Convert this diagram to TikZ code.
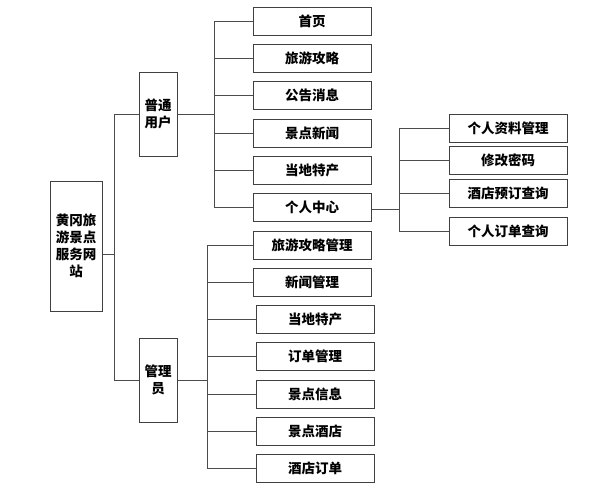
\documentclass[tikz,border=0pt]{standalone}
\usepackage{fontspec}
\setmainfont{Noto Sans CJK SC}
\usetikzlibrary{positioning}

\begin{document}
\begin{tikzpicture}[x=1pt,y=-1pt,
    box/.style={draw=black!75, line width=1pt, minimum width=118pt, minimum height=28pt,
      inner sep=0pt, font=\fontsize{13.5}{17}\selectfont\bfseries},
    tallbox/.style={box, minimum width=38pt, minimum height=84pt, align=center},
    link/.style={draw=black!70, line width=1pt}]
    \useasboundingbox (0,0) rectangle (615,490);
    % Root and roles
    \node[tallbox, minimum width=52pt, minimum height=130pt] (root) at (76,246) {黄冈旅\\游景点\\服务网\\站};
    \node[tallbox] (user) at (158,114) {普通\\用户};
    \node[tallbox] (admin) at (158,380) {管理\\员};
    % Ordinary user pages
    \foreach \t/\y [count=\i] in {首页/21,旅游攻略/58,公告消息/95,景点新闻/133,当地特产/170,个人中心/207}
      \node[box] (u\i) at (312,\y) {\t};
    % Admin pages
    \foreach \t/\x/\y [count=\i] in {旅游攻略管理/312/245,新闻管理/312/282,当地特产/315/319,
        订单管理/315/356.5,景点信息/315/394,景点酒店/315/431,酒店订单/315/468}
      \node[box] (a\i) at (\x,\y) {\t};
    % Personal centre
    \foreach \t/\y [count=\i] in {个人资料管理/128,修改密码/160.5,酒店预订查询/193,个人订单查询/231}
      \node[box] (c\i) at (508,\y) {\t};
    % Trunks and joints
    \coordinate (mt) at (114,0);
    \coordinate (ut) at (214,0);
    \coordinate (at) at (207,0);
    \coordinate (ct) at (399,0);
    \coordinate (rj) at ([yshift=-8pt]root.east);
    \coordinate (cj) at ([yshift=-2pt]u6.east);
    % Root to roles
    \draw[link] (rj) -- (mt |- rj);
    \draw[link] (mt |- user.west) -- (mt |- admin.west);
    \draw[link] (mt |- user.west) -- (user.west);
    \draw[link] (mt |- admin.west) -- (admin.west);
    % User branch
    \draw[link] (user.east) -- (ut |- user.east);
    \draw[link] (ut |- u1.west) -- (ut |- u6.west);
    \foreach \i in {1,...,6}
      \draw[link] (ut |- u\i.west) -- (u\i.west);
    % Admin branch
    \draw[link] (admin.east) -- (at |- admin.east);
    \draw[link] (at |- a1.west) -- (at |- a7.west);
    \foreach \i in {1,...,7}
      \draw[link] (at |- a\i.west) -- (a\i.west);
    % Personal centre branch
    \draw[link] (cj) -- (ct |- cj);
    \draw[link] (ct |- c1.west) -- (ct |- c4.west);
    \foreach \i in {1,...,4}
      \draw[link] (ct |- c\i.west) -- (c\i.west);
\end{tikzpicture}
\end{document}
